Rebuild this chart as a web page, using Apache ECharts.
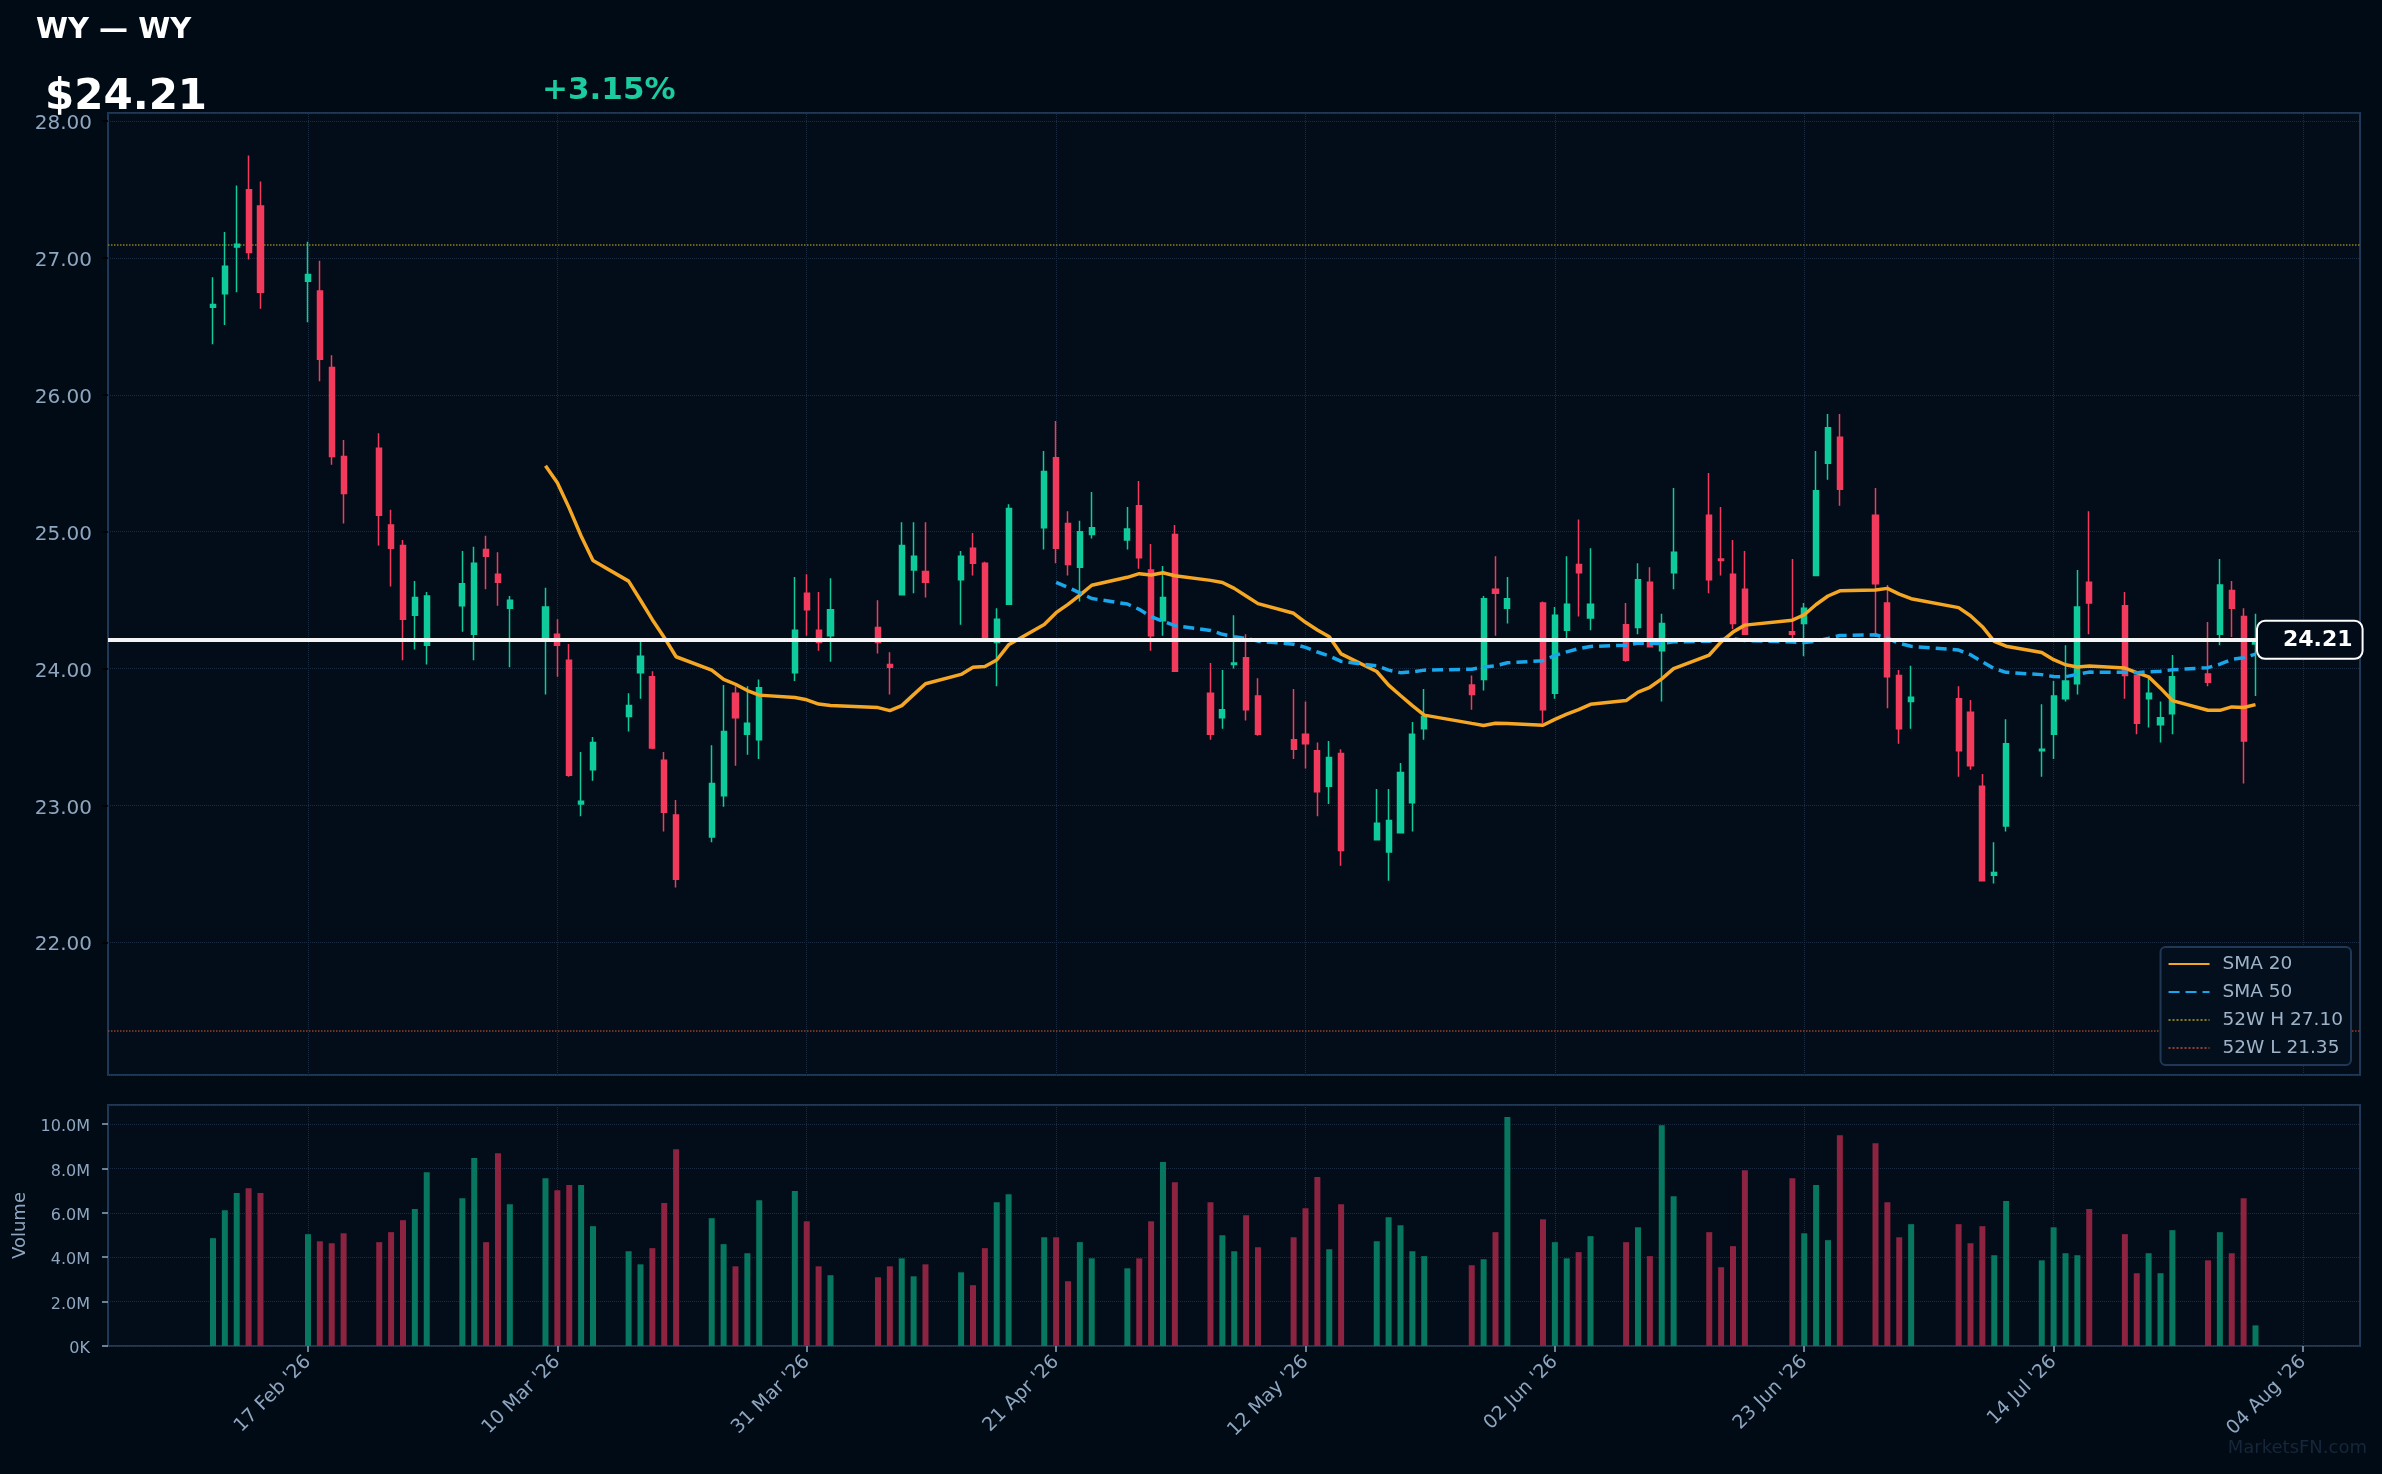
<!DOCTYPE html>
<html>
<head>
<meta charset="utf-8">
<title>WY — WY</title>
<script src="https://cdn.jsdelivr.net/npm/echarts@6/dist/echarts.min.js"></script>
<style>
  html, body { margin: 0; padding: 0; background: #010b16; }
  #chart { width: 2382px; height: 1474px; }
</style>
</head>
<body>
<div id="chart"></div>
<script>
// WY daily bars, Feb - Jul 2026
var dates = [
  '2026-02-09', '2026-02-10', '2026-02-11', '2026-02-12', '2026-02-13', '2026-02-17', '2026-02-18', '2026-02-19', '2026-02-20',
  '2026-02-23', '2026-02-24', '2026-02-25', '2026-02-26', '2026-02-27',
  '2026-03-02', '2026-03-03', '2026-03-04', '2026-03-05', '2026-03-06', '2026-03-09', '2026-03-10', '2026-03-11', '2026-03-12', '2026-03-13',
  '2026-03-16', '2026-03-17', '2026-03-18', '2026-03-19', '2026-03-20', '2026-03-23', '2026-03-24', '2026-03-25', '2026-03-26', '2026-03-27',
  '2026-03-30', '2026-03-31', '2026-04-01', '2026-04-02',
  '2026-04-06', '2026-04-07', '2026-04-08', '2026-04-09', '2026-04-10', '2026-04-13', '2026-04-14', '2026-04-15', '2026-04-16', '2026-04-17',
  '2026-04-20', '2026-04-21', '2026-04-22', '2026-04-23', '2026-04-24', '2026-04-27', '2026-04-28', '2026-04-29', '2026-04-30', '2026-05-01',
  '2026-05-04', '2026-05-05', '2026-05-06', '2026-05-07', '2026-05-08', '2026-05-11', '2026-05-12', '2026-05-13', '2026-05-14', '2026-05-15',
  '2026-05-18', '2026-05-19', '2026-05-20', '2026-05-21', '2026-05-22', '2026-05-26', '2026-05-27', '2026-05-28', '2026-05-29',
  '2026-06-01', '2026-06-02', '2026-06-03', '2026-06-04', '2026-06-05', '2026-06-08', '2026-06-09', '2026-06-10', '2026-06-11', '2026-06-12',
  '2026-06-15', '2026-06-16', '2026-06-17', '2026-06-18', '2026-06-22', '2026-06-23', '2026-06-24', '2026-06-25', '2026-06-26',
  '2026-06-29', '2026-06-30', '2026-07-01', '2026-07-02',
  '2026-07-06', '2026-07-07', '2026-07-08', '2026-07-09', '2026-07-10', '2026-07-13', '2026-07-14', '2026-07-15', '2026-07-16', '2026-07-17',
  '2026-07-20', '2026-07-21', '2026-07-22', '2026-07-23', '2026-07-24', '2026-07-27', '2026-07-28', '2026-07-29', '2026-07-30', '2026-07-31'
];
var opens = [
  26.64, 26.74, 27.08, 27.50, 27.38, 26.83, 26.76, 26.20, 25.55,
  25.61, 25.05, 24.90, 24.39, 24.17,
  24.46, 24.25, 24.87, 24.69, 24.44, 24.21, 24.25, 24.06, 23.01, 23.26,
  23.65, 23.97, 23.94, 23.33, 22.93, 22.77, 23.07, 23.82, 23.52, 23.48,
  23.97, 24.55, 24.28, 24.24,
  24.30, 24.03, 24.54, 24.72, 24.71, 24.65, 24.88, 24.77, 24.19, 24.47,
  25.03, 25.54, 25.06, 24.74, 24.98, 24.94, 25.19, 24.72, 24.35, 24.98,
  23.82, 23.64, 24.03, 24.08, 23.80, 23.48, 23.52, 23.40, 23.14, 23.38,
  22.75, 22.66, 22.80, 23.02, 23.56, 23.88, 23.92, 24.58, 24.44,
  24.48, 23.82, 24.28, 24.76, 24.37, 24.32, 24.30, 24.63, 24.13, 24.70,
  25.12, 24.80, 24.69, 24.58, 24.27, 24.33, 24.68, 25.50, 25.69,
  25.12, 24.48, 23.95, 23.76,
  23.78, 23.68, 23.14, 22.49, 22.85, 23.40, 23.52, 23.78, 23.89, 24.63,
  24.46, 23.95, 23.78, 23.59, 23.67, 23.96, 24.25, 24.57, 24.38, 24.18
];
var closes = [
  26.66, 26.94, 27.10, 27.04, 26.75, 26.88, 26.26, 25.55, 25.28,
  25.12, 24.88, 24.36, 24.52, 24.53,
  24.62, 24.77, 24.82, 24.63, 24.50, 24.45, 24.17, 23.22, 23.03, 23.46,
  23.73, 24.09, 23.42, 22.95, 22.46, 23.16, 23.54, 23.64, 23.60, 23.86,
  24.28, 24.43, 24.19, 24.43,
  24.19, 24.01, 24.90, 24.82, 24.63, 24.82, 24.77, 24.21, 24.36, 25.17,
  25.44, 24.88, 24.76, 25.00, 25.03, 25.02, 24.81, 24.24, 24.52, 23.98,
  23.52, 23.70, 24.04, 23.70, 23.52, 23.41, 23.45, 23.10, 23.35, 22.67,
  22.87, 22.89, 23.24, 23.52, 23.65, 23.81, 24.51, 24.55, 24.51,
  23.70, 24.39, 24.47, 24.70, 24.47, 24.06, 24.65, 24.16, 24.33, 24.85,
  24.65, 24.79, 24.33, 24.25, 24.25, 24.44, 25.30, 25.76, 25.31,
  24.62, 23.94, 23.56, 23.79,
  23.40, 23.29, 22.45, 22.51, 23.45, 23.41, 23.80, 23.91, 24.45, 24.48,
  23.95, 23.60, 23.82, 23.64, 23.94, 23.90, 24.61, 24.44, 23.47, 24.21
];
var lows = [
  26.37, 26.51, 26.75, 26.99, 26.63, 26.53, 26.10, 25.49, 25.06,
  24.90, 24.60, 24.06, 24.14, 24.03,
  24.27, 24.06, 24.58, 24.46, 24.01, 23.81, 23.94, 23.21, 22.92, 23.18,
  23.54, 23.78, 23.41, 22.81, 22.40, 22.73, 22.99, 23.29, 23.37, 23.34,
  23.91, 24.24, 24.13, 24.05,
  24.11, 23.81, 24.54, 24.55, 24.52, 24.32, 24.68, 24.20, 23.87, 24.47,
  24.87, 24.77, 24.68, 24.49, 24.95, 24.87, 24.73, 24.13, 24.24, 23.98,
  23.48, 23.56, 24.00, 23.62, 23.51, 23.34, 23.27, 22.92, 23.01, 22.56,
  22.75, 22.45, 22.80, 22.81, 23.48, 23.70, 23.84, 24.24, 24.33,
  23.60, 23.78, 24.20, 24.38, 24.28, 24.05, 24.25, 24.16, 23.76, 24.58,
  24.55, 24.68, 24.29, 24.25, 24.20, 24.09, 24.68, 25.38, 25.19,
  24.23, 23.71, 23.45, 23.56,
  23.21, 23.26, 22.45, 22.43, 22.81, 23.21, 23.34, 23.76, 23.81, 24.25,
  23.78, 23.52, 23.57, 23.46, 23.52, 23.87, 24.17, 24.23, 23.16, 23.80
];
var highs = [
  26.86, 27.19, 27.53, 27.75, 27.56, 27.12, 26.98, 26.29, 25.67,
  25.72, 25.16, 24.94, 24.64, 24.56,
  24.86, 24.89, 24.97, 24.85, 24.53, 24.59, 24.36, 24.18, 23.39, 23.50,
  23.82, 24.22, 23.98, 23.39, 23.04, 23.44, 23.88, 23.87, 23.87, 23.92,
  24.67, 24.69, 24.56, 24.66,
  24.50, 24.12, 25.07, 25.07, 25.07, 24.86, 24.99, 24.78, 24.44, 25.20,
  25.59, 25.81, 25.15, 25.08, 25.29, 25.18, 25.37, 24.91, 24.75, 25.05,
  24.04, 23.99, 24.39, 24.25, 23.93, 23.85, 23.76, 23.46, 23.47, 23.41,
  23.12, 23.12, 23.31, 23.61, 23.85, 23.95, 24.53, 24.82, 24.67,
  24.49, 24.45, 24.82, 25.09, 24.88, 24.48, 24.77, 24.74, 24.40, 25.32,
  25.43, 25.18, 24.94, 24.86, 24.80, 24.48, 25.59, 25.86, 25.86,
  25.32, 24.61, 23.99, 24.02,
  23.87, 23.77, 23.23, 22.73, 23.63, 23.74, 23.91, 24.17, 24.72, 25.15,
  24.56, 23.95, 23.93, 23.76, 24.10, 24.34, 24.80, 24.64, 24.44, 24.40
];
var volumeM = [
  4.86, 6.12, 6.89, 7.11, 6.89, 5.04, 4.72, 4.63, 5.08,
  4.68, 5.13, 5.67, 6.17, 7.83,
  6.66, 8.47, 4.68, 8.69, 6.39, 7.56, 7.02, 7.25, 7.25, 5.40,
  4.27, 3.68, 4.41, 6.44, 8.87, 5.76, 4.59, 3.59, 4.18, 6.57,
  6.98, 5.62, 3.59, 3.19,
  3.10, 3.59, 3.95, 3.14, 3.68, 3.32, 2.74, 4.41, 6.48, 6.84,
  4.90, 4.90, 2.92, 4.68, 3.95, 3.50, 3.95, 5.62, 8.29, 7.38,
  6.48, 4.99, 4.27, 5.89, 4.45, 4.90, 6.21, 7.61, 4.36, 6.39,
  4.72, 5.80, 5.44, 4.27, 4.05, 3.64, 3.91, 5.13, 10.32,
  5.71, 4.68, 3.95, 4.23, 4.95, 4.68, 5.35, 4.05, 9.95, 6.75,
  5.13, 3.55, 4.50, 7.92, 7.56, 5.08, 7.25, 4.77, 9.50,
  9.14, 6.48, 4.90, 5.49,
  5.49, 4.63, 5.40, 4.09, 6.53, 3.86, 5.35, 4.18, 4.09, 6.17,
  5.04, 3.28, 4.18, 3.28, 5.22, 3.86, 5.13, 4.18, 6.66, 0.93
];
var tickDates = ['2026-02-17', '2026-03-10', '2026-03-31', '2026-04-21', '2026-05-12', '2026-06-02', '2026-06-23', '2026-07-14', '2026-08-04'];
var high52 = 27.10;
var low52 = 21.35;

var UP = '#0fcb9b', DOWN = '#f23b5c';
var VOL_UP = '#07775f', VOL_DOWN = '#8c2340';
var LABEL = '#8fa6c0', GRIDLINE = '#1b2b3f', BORDER = '#1e3856';
var MONTHS = ['Jan', 'Feb', 'Mar', 'Apr', 'May', 'Jun', 'Jul', 'Aug', 'Sep', 'Oct', 'Nov', 'Dec'];
var DAY = 86400000;

function ts(d) { return Date.parse(d); }
function fmtDate(v) {
  var p = new Date(v).toISOString().slice(0, 10).split('-');
  return p[2] + ' ' + MONTHS[+p[1] - 1] + " '" + p[0].slice(2);
}
function sma(n) {
  var out = [];
  for (var i = n - 1; i < closes.length; i++) {
    var s = 0;
    for (var j = i - n + 1; j <= i; j++) s += closes[j];
    out.push([ts(dates[i]), +(s / n).toFixed(4)]);
  }
  return out;
}

// x range: about 16.8 days before the first tick to ~172.8 days after it
var tickTs = tickDates.map(ts);
var xMin = tickTs[0] - 16.84 * DAY;
var xMax = tickTs[0] + 172.8 * DAY;

var candleData = dates.map(function (d, i) { return [ts(d), opens[i], closes[i], lows[i], highs[i]]; });
var volData = dates.map(function (d, i) {
  return { value: [ts(d), volumeM[i]], itemStyle: { color: closes[i] >= opens[i] ? VOL_UP : VOL_DOWN } };
});
var lastClose = closes[closes.length - 1];
var prevClose = closes[closes.length - 2];
var pct = (lastClose / prevClose - 1) * 100;
var vGrid = tickTs.map(function (t) { return { xAxis: t }; });
var gridLineStyle = { color: GRIDLINE, type: 'dotted', width: 1 };

var chart = echarts.init(document.getElementById('chart'));
var option = {
  animation: false,
  backgroundColor: '#010b16',
  textStyle: { fontFamily: 'DejaVu Sans' },
  graphic: [
    { type: 'text', x: 36, y: 30, style: { text: 'WY — WY', fill: '#ffffff', font: 'bold 29px "DejaVu Sans"', verticalAlign: 'middle' } },
    { type: 'text', x: 45, y: 98, style: { text: '$' + lastClose.toFixed(2), fill: '#ffffff', font: 'bold 42px "DejaVu Sans"', verticalAlign: 'middle' } },
    { type: 'text', x: 542, y: 91, style: { text: (pct >= 0 ? '+' : '') + pct.toFixed(2) + '%', fill: '#1ccba0', font: 'bold 31px "DejaVu Sans"', verticalAlign: 'middle' } },
    { type: 'text', x: 2367, y: 1448, style: { text: 'MarketsFN.com', fill: '#17263a', font: '18px "DejaVu Sans"', align: 'right', verticalAlign: 'middle' } }
  ],
  legend: {
    orient: 'vertical',
    right: 31,
    top: 947,
    padding: [7, 8, 7, 7],
    itemWidth: 41,
    itemHeight: 12,
    itemGap: 8,
    selectedMode: false,
    backgroundColor: '#030f1d',
    borderColor: BORDER,
    borderWidth: 2,
    borderRadius: 5,
    itemStyle: { color: 'transparent', borderColor: 'transparent', borderWidth: 0, opacity: 0 },
    textStyle: { color: '#9fb3c8', fontSize: 18.5, lineHeight: 20, padding: [0, 0, 0, 8] },
    data: ['SMA 20', 'SMA 50', '52W H ' + high52.toFixed(2), '52W L ' + low52.toFixed(2)]
  },
  grid: [
    { left: 108, right: 22, top: 113, height: 962, show: true, backgroundColor: '#020d19', borderColor: BORDER, borderWidth: 2 },
    { left: 108, right: 22, top: 1105, height: 241, show: true, backgroundColor: '#020d19', borderColor: BORDER, borderWidth: 2 }
  ],
  xAxis: [
    {
      type: 'value', gridIndex: 0, min: xMin, max: xMax,
      axisLine: { show: false }, axisTick: { show: false }, axisLabel: { show: false }, splitLine: { show: false }
    },
    {
      type: 'value', gridIndex: 1, min: xMin, max: xMax,
      axisLine: { show: false },
      axisTick: { show: true, customValues: tickTs, length: 6, lineStyle: { color: LABEL, width: 1.5 } },
      axisLabel: { customValues: tickTs, rotate: 45, color: LABEL, fontSize: 19, margin: 13, formatter: fmtDate },
      splitLine: { show: false }
    }
  ],
  yAxis: [
    {
      type: 'value', gridIndex: 0, min: 21.03, max: 28.06, splitNumber: 7,
      axisLine: { show: false },
      axisTick: { show: true, length: 6, lineStyle: { color: '#000000', width: 1.5 } },
      axisLabel: {
        color: LABEL, fontSize: 20, margin: 16, showMinLabel: false, showMaxLabel: false,
        verticalAlign: 'top', lineHeight: 6,
        formatter: function (v) { return Math.abs(v - Math.round(v)) < 1e-6 ? v.toFixed(2) : ''; }
      },
      splitLine: { show: true, lineStyle: gridLineStyle }
    },
    {
      type: 'value', gridIndex: 1, min: 0, max: 10.86, splitNumber: 5,
      name: 'Volume', nameLocation: 'middle', nameRotate: 90, nameGap: 76,
      nameTextStyle: { color: LABEL, fontSize: 18 },
      axisLine: { show: false },
      axisTick: { show: true, length: 6, lineStyle: { color: LABEL, width: 1.5 } },
      axisLabel: {
        color: LABEL, fontSize: 16, margin: 18, showMaxLabel: false,
        verticalAlign: 'top', lineHeight: 6,
        formatter: function (v) {
          if (v === 0) return '0K';
          return Math.abs(v / 2 - Math.round(v / 2)) < 1e-6 ? v.toFixed(1) + 'M' : '';
        }
      },
      splitLine: { show: true, lineStyle: gridLineStyle }
    }
  ],
  series: [
    {
      name: 'gridlines', type: 'line', xAxisIndex: 0, yAxisIndex: 0, data: [], z: 0,
      markLine: { silent: true, symbol: 'none', z: 0, label: { show: false }, lineStyle: gridLineStyle, data: vGrid }
    },
    {
      name: '52W H ' + high52.toFixed(2), type: 'line', xAxisIndex: 0, yAxisIndex: 0, data: [], symbol: 'none',
      lineStyle: { color: '#8a7f1e', type: 'dotted', width: 1.5 },
      markLine: { silent: true, symbol: 'none', z: 1, label: { show: false }, lineStyle: { color: '#8a7f1e', type: 'dotted', width: 1.5 }, data: [{ yAxis: high52 }] }
    },
    {
      name: '52W L ' + low52.toFixed(2), type: 'line', xAxisIndex: 0, yAxisIndex: 0, data: [], symbol: 'none',
      lineStyle: { color: '#96402c', type: 'dotted', width: 1.5 },
      markLine: { silent: true, symbol: 'none', z: 1, label: { show: false }, lineStyle: { color: '#96402c', type: 'dotted', width: 1.5 }, data: [{ yAxis: low52 }] }
    },
    {
      name: 'WY', type: 'candlestick', xAxisIndex: 0, yAxisIndex: 0,
      data: candleData,
      encode: { x: 0, y: [1, 2, 3, 4] },
      barWidth: 5.6,
      itemStyle: { color: UP, color0: DOWN, borderColor: UP, borderColor0: DOWN, borderWidth: 1.5 },
      markLine: {
        silent: true, symbol: 'none', z: 10,
        lineStyle: { color: '#f4f4f4', type: 'solid', width: 4 },
        label: {
          show: true, position: 'end', distance: 0, offset: [-102, 0],
          formatter: function () { return lastClose.toFixed(2); },
          color: '#ffffff', fontSize: 22, fontWeight: 'bold', lineHeight: 26,
          backgroundColor: '#020c18', borderColor: '#ffffff', borderWidth: 2, borderRadius: 7,
          padding: [5, 9, 5, 25]
        },
        data: [{ yAxis: lastClose }]
      }
    },
    {
      name: 'SMA 20', type: 'line', xAxisIndex: 0, yAxisIndex: 0, data: sma(20), symbol: 'none', z: 5,
      lineStyle: { color: '#f5a623', width: 3.5 }, itemStyle: { color: '#f5a623' }
    },
    {
      name: 'SMA 50', type: 'line', xAxisIndex: 0, yAxisIndex: 0, data: sma(50), symbol: 'none', z: 5,
      lineStyle: { color: '#19a6ea', width: 3.5, type: [11, 6] }, itemStyle: { color: '#19a6ea' }
    },
    {
      name: 'Volume', type: 'bar', xAxisIndex: 1, yAxisIndex: 1, data: volData, barWidth: 6,
      markLine: { silent: true, symbol: 'none', z: 0, label: { show: false }, lineStyle: gridLineStyle, data: vGrid }
    }
  ]
};
chart.setOption(option);
</script>
</body>
</html>
